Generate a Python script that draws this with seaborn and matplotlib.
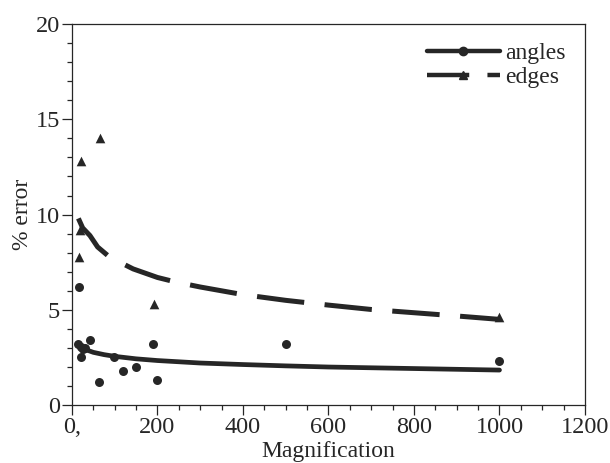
import matplotlib
matplotlib.use("Agg")
import matplotlib.pyplot as plt
from matplotlib.lines import Line2D
from matplotlib.ticker import MultipleLocator
import seaborn as sns
import pandas as pd

# measured points
angles_x = [15, 20, 25, 30, 20, 42, 98, 64, 119, 149, 189, 199, 500, 1000, 17]
angles_y = [3.2, 3.05, 2.95, 3.0, 2.5, 3.4, 2.5, 1.2, 1.8, 2.0, 3.2, 1.3, 3.2, 2.3, 6.2]

edges_x = [65, 22, 19, 17, 191, 1000]
edges_y = [14.0, 12.8, 9.2, 7.8, 5.3, 4.6]

# fitted curves
fit_x = [15, 30, 50, 75, 100, 150, 200, 300, 400, 500, 600, 700, 800, 900, 1000]
fit_angles = [3.15, 2.93, 2.77, 2.65, 2.56, 2.43, 2.34, 2.21, 2.13, 2.06, 2.00, 1.96, 1.92, 1.88, 1.84]

fit_edges_x = [15, 25, 42, 60, 88, 143, 200, 243, 300, 400, 500, 600, 700, 800, 900, 1000]
fit_edges = [9.8, 9.3, 8.9, 8.3, 7.77, 7.15, 6.7, 6.46, 6.2, 5.8, 5.5, 5.25, 5.02, 4.85, 4.68, 4.5]

xticks = [0, 200, 400, 600, 800, 1000, 1200]
xtick_labels = ["0,", "200", "400", "600", "800", "1000", "1200"]
yticks = [0, 5, 10, 15, 20]

sns.set_style("ticks")
plt.rcParams['font.family'] = ['Liberation Serif', 'DejaVu Serif']

ink = "#262626"
fs = 17

fig = plt.figure(figsize=(6.1, 4.63), dpi=100)
ax = fig.add_axes([0.118, 0.125, 0.841, 0.823])

pts_a = pd.DataFrame({"x": angles_x, "y": angles_y})
pts_e = pd.DataFrame({"x": edges_x, "y": edges_y})
sns.scatterplot(data=pts_a, x="x", y="y", marker="o", s=42, color=ink,
                edgecolor=ink, linewidth=0, ax=ax, zorder=3)
sns.scatterplot(data=pts_e, x="x", y="y", marker="^", s=48, color=ink,
                edgecolor=ink, linewidth=0, ax=ax, zorder=3)

sns.lineplot(x=fit_x, y=fit_angles, color=ink, lw=3.4, ax=ax)
sns.lineplot(x=fit_edges_x, y=fit_edges, color=ink, lw=3.6, ax=ax)
ax.lines[-1].set_dashes((9.5, 4.1))

ax.set_xlim(0, 1200)
ax.set_ylim(0, 20)
ax.set_xticks(xticks)
ax.set_xticklabels(xtick_labels)
ax.set_yticks(yticks)
ax.xaxis.set_minor_locator(MultipleLocator(50))
ax.yaxis.set_minor_locator(MultipleLocator(1))
ax.tick_params(which="major", length=7, width=0.9, color=ink, labelsize=17.5,
               labelcolor=ink, pad=1.5)
ax.tick_params(which="minor", length=3.6, width=0.9, color=ink)

for s in ax.spines.values():
    s.set_visible(True)
    s.set_linewidth(0.9)
    s.set_color(ink)

ax.set_xlabel("Magnification", fontsize=fs, color=ink, labelpad=2)
ax.set_ylabel("% error", fontsize=fs, color=ink, labelpad=2)

handles = [
    Line2D([], [], color=ink, lw=3.2, marker="o", markersize=6),
    Line2D([], [], color=ink, lw=3.2, marker="^", markersize=6,
           dashes=(9.5, 4.1)),
]
ax.legend(handles, ["angles", "edges"], loc="upper right", frameon=False,
          fontsize=fs, handlelength=3.1, handletextpad=0.25, labelspacing=0.1,
          borderaxespad=0.4, numpoints=1, labelcolor=ink)

fig.savefig("out.png", dpi=100)
